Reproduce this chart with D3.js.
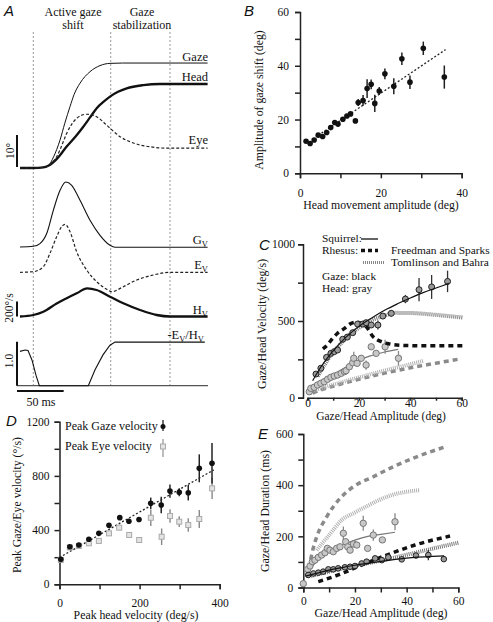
<!DOCTYPE html>
<html><head><meta charset="utf-8">
<script src="https://cdn.jsdelivr.net/npm/d3@7"></script>
<style>
body{margin:0;background:#fff}
svg text{font-family:"Liberation Serif","Times New Roman",serif;fill:#111}
</style></head><body>
<svg id="c" width="493" height="622"></svg>
<script>
// ---------- Panel A (time in ms, position in deg, velocity in deg/s) ----------
const phaseTimes = [14.25, 97.2, 160.7];
const gazePos = [[0,0],[14,0],[25,0.2],[30.3,0.7],[36,3.5],[42.9,8.75],[48,14],[53.6,19.2],[58,23],[64.3,26.5],[75,30.1],[85.7,32],[96.4,32.7],[110,32.8],[201,32.8]];
const headPos = [[0,0],[14,0],[25,0.2],[30.3,0.7],[40,3],[50,6.7],[60,10],[67.8,12.9],[75,15.8],[82.2,18.7],[90,20.8],[96.4,22.3],[105,23.8],[114.3,24.9],[132,25.9],[150,26.25],[201,26.25]];
const eyePos = [[0,0],[14,0],[25,0.2],[30.3,0.6],[35,1.8],[39.3,3.5],[45,7.2],[50,10.8],[55,13.5],[60.7,15.5],[66,16.5],[71.5,16.8],[77,16.6],[82.2,16],[92.9,13.4],[100,11.5],[107.1,9.8],[118,8.2],[128.6,7.2],[140,6.6],[157.2,6.2],[201,6.2]];
const gazeVel = [[0,4],[14.3,13],[21.4,49],[28.6,183],[35.7,493],[42.9,760],[49,871],[55.4,827],[64.3,627],[75,360],[85.7,160],[96.4,27],[102,0],[201,0]];
const eyeVel = [[0,0],[14.3,8],[25,75],[32.1,253],[39.3,475],[44.6,608],[48.2,640],[53.6,541],[60.7,275],[71.4,31],[82.1,-125],[92.9,-227],[98.2,-259],[110.7,-192],[125,-103],[142.9,-36],[160.7,0],[201,0]];
const headVel = [[0,0],[14.3,20],[25,64],[39.3,173],[50,243],[60.7,309],[72,375],[82.1,353],[96.4,264],[110.7,176],[128.6,87],[146.4,20],[160.7,0],[201,0]];
const eyeHeadRatio = [[0,0.78],[5.4,0.81],[8.6,0.8],[12.9,0.58],[17.1,0.24],[20.7,0],[73.2,0],[80.4,0.36],[88.9,0.70],[96.4,0.92],[101.8,0.99],[198,0.99]];

// ---------- Panel B ----------
const bHeadAmp = [1.5,2.5,3.5,4.5,5.6,6.6,7.6,8.6,9.4,10.6,11.6,12.5,13.7,14.4,15.6,16.6,17.6,18.5,19.6,21.0,23.2,25.2,27.2,30.5,35.7];
const bGazeAmp = [11.9,11.1,12.4,14.2,13.7,15.2,17.0,18.9,18.3,20.1,21.3,22.1,19.5,26.3,27.1,31.5,33.1,26.0,30.6,37.0,32.4,42.6,33.9,46.5,35.8];
const bErr = [0,0,0,0,0,0,0,0,0,0,0,0,0,1.3,2.0,3.5,1.8,3.2,1.5,2.0,3.0,2.3,2.5,2.5,4.3];
const bFit = [[4.5,14.1],[36,46]];

// ---------- Panel C (amplitude deg, velocity deg/s) ----------
const cGazePts = [[3.3,154,0],[5.2,192,0],[7.4,263,0],[9.1,289,0],[10.4,300,0],[11.7,311,0],[13.7,381,0],[15.5,395,0],[17.6,424,0],[19.5,480,15],[21.5,480,0],[22.8,489,0],[24.8,474,15],[27.4,474,30],[29.3,532,15],[32.6,550,20],[38.1,643,27],[43.4,704,76],[48.3,722,78],[54.5,758,70]];
const cHeadPts = [[0.7,39,0],[1.3,61,0],[2.6,68,0],[3.9,83,0],[5.2,94,0],[6.5,104,0],[7.8,120,0],[9.1,133,0],[10.4,141,0],[11.7,148,0],[13.1,159,0],[14.4,170,0],[15,176,0],[16.3,202,0],[17.6,228,0],[18,257,43],[19.3,224,0],[20.9,257,20],[22.8,213,30],[24.8,332,0],[26.7,289,0],[30.2,332,45],[35.4,257,48]];
const cGazeFit = [[2,110],[5,195],[8,265],[10,305],[15,395],[20,465],[25,520],[30,570],[35,612],[40,650],[45,685],[50,715],[55,745]];
const cHeadFit = [[1,45],[5,95],[10,150],[15,200],[20,245],[25,275],[30,298],[35.3,315]];
const cFSGaze = [[6,318],[7.8,345],[9.8,387],[11.7,420],[14.4,452],[17,485],[19,492],[21,485],[23,460],[25.4,400],[28.7,365],[32,350],[36,342],[45,338],[60.5,338]];
const cFSHead = [[2,30],[5,50],[10,75],[20,120],[30,160],[40,195],[50,225],[58.5,250]];
const cTBGaze = [[4,140],[8,250],[12,335],[16,405],[20,455],[25,505],[30,535],[34,553],[40,552],[50,540],[60.5,522]];
const cTBHead = [[2.5,48],[10,85],[20,132],[30,177],[40,218],[45,240]];

// ---------- Panel D (deg/s) ----------
const dGaze = [[3.3,184,0],[25.8,277,0],[48.3,290,0],[73.3,333,0],[98.3,376,0],[123.5,436,0],[150.5,492,0],[173.3,465,0],[198.5,478,0],[227.8,598,42],[254,585,61],[275.8,688,49],[299,679,30],[321.5,676,57],[349,856,103],[380.8,893,150]];
const dEye = [[3.3,180,0],[25.8,272,0],[48.3,283,0],[73.3,303,8],[98.3,320,10],[123.5,376,12],[149,418,15],[174,364,20],[199,327,20],[228,491,61],[255,351,61],[276,504,49],[299,462,40],[321.5,438,50],[349,482,66],[381,708,79]];
const dFit = [[0,198],[385,844]];

// ---------- Panel E (amplitude deg, duration ms) ----------
const eGazePts = [[1.9,49,0],[3.9,55,0],[5.8,58,0],[7.7,62,0],[9.7,71,0],[11.6,71,0],[13.5,75,0],[16.1,79,0],[18.1,81,0],[20,84,0],[22.6,94,0],[24.5,101,0],[27.8,114,0],[30.4,107,0],[32.9,118,0],[38.1,110,0],[43.6,125,0],[48.4,127,20],[54.4,111,0]];
const eHeadPts = [[0,15,0],[1.7,71,0],[2.6,84,0],[3.5,101,0],[4.5,107,0],[5.8,118,0],[7.1,127,0],[8.4,136,0],[9.3,153,0],[10.3,146,0],[11.6,140,0],[12.9,153,0],[14.2,159,0],[15.5,212,26],[16.4,179,0],[17.2,159,0],[18.1,146,0],[19.4,170,0],[20.7,166,0],[23.2,251,29],[24.9,153,0],[27.1,205,22],[30.6,186,0],[35.5,257,33]];
const eGazeFit = [[1,45],[5,55],[10,68],[15,78],[20,87],[30,102],[40,115],[50,122],[54.5,124]];
const eHeadFit = [[1,50],[5,100],[10,140],[15,165],[20,185],[25,200],[30,208],[35.5,216]];
const eFSHead = [[1.5,40],[2.3,81],[3.5,140],[5.2,198],[9.1,277],[14.2,348],[19.4,394],[27.1,433],[34.8,472],[43.9,511],[55,550]];
const eFSGaze = [[5.8,23],[13.5,49],[22.6,88],[34.2,134],[43.2,166],[56.8,201]];
const eTBHead = [[5.2,146],[10,205],[14.9,264],[20,293],[25,320],[30,345],[35.5,365],[40,374],[45.2,381]];
const eTBGaze = [[3,45],[10,62],[20,85],[30,105],[40,128],[50,152],[60,175]];

// ================= drawing =================
const svg = d3.select("#c");
const BLACK = "#111", GRAY = "#8a8a8a", LGRAY = "#b0b0b0";
const TICKFS = 11.5, TITLEFS = 11.8, LEGFS = 11.4;

function drawAxis(orient, scale, pos, ticks, labelled, pad, size) {
  const ax = (orient === "left" ? d3.axisLeft(scale) : d3.axisBottom(scale))
    .tickValues(ticks).tickSizeOuter(0).tickSize(size || 5).tickPadding(pad)
    .tickFormat(d => labelled.includes(d) ? d : "");
  const g = svg.append("g")
    .attr("transform", orient === "left" ? `translate(${pos},0)` : `translate(0,${pos})`)
    .call(ax);
  g.select(".domain").attr("stroke", "#222").attr("stroke-width", 1.5);
  g.selectAll(".tick line").attr("stroke", "#222").attr("stroke-width", 1.5);
  g.selectAll("text").attr("font-size", TICKFS).attr("fill", "#111");
  return g;
}
function text(x, y, s, opt = {}) {
  const t = svg.append("text").attr("x", x).attr("y", y).text(s)
    .attr("font-size", opt.size || 12).attr("text-anchor", opt.anchor || "start");
  if (opt.rot) t.attr("transform", `rotate(-90,${x},${y})`);
  return t;
}
function panelLetter(x, y, s) {
  svg.append("text").attr("x", x).attr("y", y).text(s)
    .attr("font-style", "italic").attr("font-size", 15)
    .style("font-family", "Liberation Sans, Arial, sans-serif");
}
function path(data, x, y, stroke, width, dash, curve) {
  svg.append("path").datum(data)
    .attr("d", d3.line().x(d => x(d[0])).y(d => y(d[1])).curve(curve || d3.curveMonotoneX))
    .attr("fill", "none").attr("stroke", stroke).attr("stroke-width", width)
    .attr("stroke-dasharray", dash || null);
}
function errBars(data, x, y, stroke, width) {
  svg.append("g").selectAll("line").data(data.filter(d => d[2] > 0)).join("line")
    .attr("x1", d => x(d[0])).attr("x2", d => x(d[0]))
    .attr("y1", d => y(d[1] - d[2])).attr("y2", d => y(d[1] + d[2]))
    .attr("stroke", stroke).attr("stroke-width", width || 1.3);
}
function subLabel(x, y, parts) {
  const t = svg.append("text").attr("x", x).attr("y", y).attr("text-anchor", "end").attr("font-size", 12.5);
  let down = false;
  parts.forEach(([s, sub]) => {
    const sp = t.append("tspan").text(s);
    if (sub && !down) { sp.attr("font-size", 8.5).attr("dy", 2.5); down = true; }
    else if (!sub && down) { sp.attr("dy", -2.5); down = false; }
    else if (sub) sp.attr("font-size", 8.5);
  });
}

// ---------- Panel A ----------
{
  const tx = d3.scaleLinear().domain([0, 201]).range([20, 207.6]);
  const yPos = d3.scaleLinear().domain([0, 10]).range([168, 136]);
  const yGv = d3.scaleLinear().domain([0, 200]).range([247.3, 232.3]);
  const yEv = d3.scaleLinear().domain([0, 200]).range([272.3, 257.3]);
  const yHv = d3.scaleLinear().domain([0, 200]).range([316.5, 301.5]);
  const yRat = d3.scaleLinear().domain([0, 1]).range([385.7, 341.7]);

  phaseTimes.forEach(t => {
    svg.append("line").attr("x1", tx(t)).attr("x2", tx(t)).attr("y1", 32).attr("y2", 386)
      .attr("stroke", "#999").attr("stroke-width", 1).attr("stroke-dasharray", "2,2");
  });
  panelLetter(4, 16, "A");
  text(73, 16, "Active gaze", { anchor: "middle" });
  text(73, 29, "shift", { anchor: "middle" });
  text(142, 16, "Gaze", { anchor: "middle" });
  text(142, 29, "stabilization", { anchor: "middle" });

  path(gazePos, tx, yPos, BLACK, 1, null);
  path(headPos, tx, yPos, BLACK, 2.3, null);
  path(eyePos, tx, yPos, "#222", 1.2, "3,2");
  text(208, 61, "Gaze", { anchor: "end", size: 12.5 });
  text(208, 81, "Head", { anchor: "end", size: 12.5 });
  text(208, 144, "Eye", { anchor: "end", size: 12.5 });

  svg.append("line").attr("x1", 17).attr("x2", 17).attr("y1", yPos(0) - 1).attr("y2", yPos(10) - 1)
    .attr("stroke", BLACK).attr("stroke-width", 2);
  text(14, 151, "10°", { anchor: "middle", rot: true, size: 11.5 });

  path(gazeVel, tx, yGv, BLACK, 1.1, null);
  path(eyeVel, tx, yEv, "#222", 1.2, "3,2");
  path(headVel, tx, yHv, BLACK, 2.3, null);
  subLabel(208, 244, [["G"], ["V", true]]);
  subLabel(208, 269, [["E"], ["V", true]]);
  subLabel(208, 314, [["H"], ["V", true]]);

  svg.append("line").attr("x1", 17).attr("x2", 17).attr("y1", yHv(0)).attr("y2", yHv(200))
    .attr("stroke", BLACK).attr("stroke-width", 2);
  text(13, 308, "200°/s", { anchor: "middle", rot: true, size: 11.5 });

  svg.append("line").attr("x1", 17).attr("x2", 208).attr("y1", yRat(0)).attr("y2", yRat(0))
    .attr("stroke", "#555").attr("stroke-width", 1.2);
  svg.append("line").attr("x1", 17).attr("x2", 17).attr("y1", yRat(0)).attr("y2", yRat(1))
    .attr("stroke", BLACK).attr("stroke-width", 2);
  text(13, 361, "1.0", { anchor: "middle", rot: true, size: 11.5 });
  path(eyeHeadRatio, tx, yRat, BLACK, 1.1, null, d3.curveLinear);
  subLabel(204, 339, [["-E"], ["V", true], ["/H"], ["V", true]]);

  svg.append("line").attr("x1", 17).attr("x2", 17 + tx(50) - tx(0)).attr("y1", 391).attr("y2", 391)
    .attr("stroke", BLACK).attr("stroke-width", 2);
  text(41, 406, "50 ms", { anchor: "middle", size: 12 });
}

// ---------- Panel B ----------
{
  const x = d3.scaleLinear().domain([0, 40]).range([300, 461.7]);
  const y = d3.scaleLinear().domain([0, 60]).range([173.3, 12]);
  drawAxis("left", y, 300, [0, 10, 20, 30, 40, 50, 60], [0, 20, 40, 60], 6);
  drawAxis("bottom", x, 173.3, [0, 10, 20, 30, 40], [0, 20, 40], 10.5);
  panelLetter(244, 16, "B");
  text(263, 100, "Amplitude of gaze shift (deg)", { anchor: "middle", rot: true, size: TITLEFS });
  text(381, 209, "Head movement amplitude (deg)", { anchor: "middle", size: TITLEFS });
  path(bFit, x, y, "#222", 1.3, "2,2", d3.curveLinear);
  const pts = bHeadAmp.map((v, i) => [v, bGazeAmp[i], bErr[i]]);
  errBars(pts, x, y, "#222", 1.5);
  svg.append("g").selectAll("circle").data(pts).join("circle")
    .attr("cx", d => x(d[0])).attr("cy", d => y(d[1])).attr("r", 2.8).attr("fill", BLACK);
}

// ---------- Panel C ----------
{
  const x = d3.scaleLinear().domain([0, 60]).range([307.5, 461.7]);
  const y = d3.scaleLinear().domain([0, 1000]).range([397.7, 244.3]);
  drawAxis("left", y, 303, [0, 250, 500, 750, 1000], [0, 500, 1000], 3);
  drawAxis("bottom", x, 397.7, [0, 10, 20, 30, 40, 50, 60], [0, 20, 40, 60], -2.2, 3);
  panelLetter(259, 250, "C");
  text(266, 324, "Gaze/Head Velocity (deg/s)", { anchor: "middle", rot: true, size: TITLEFS });
  text(381, 419.5, "Gaze/Head Amplitude (deg)", { anchor: "middle", size: 11.5 });

  path(cFSHead, x, y, GRAY, 3.5, "5,4");
  path(cTBHead, x, y, LGRAY, 4, "1,1");
  path(cHeadFit, x, y, "#777", 1.2);
  errBars(cHeadPts, x, y, "#888", 1.3);
  svg.append("g").selectAll("circle").data(cHeadPts).join("circle")
    .attr("cx", d => x(d[0])).attr("cy", d => y(d[1])).attr("r", 3.2)
    .attr("fill", "#c8c8c8").attr("stroke", "#777").attr("stroke-width", 1);

  path(cTBGaze, x, y, "#777", 4, "1,1");
  path(cFSGaze, x, y, BLACK, 3.5, "5,4");
  errBars(cGazePts, x, y, "#333", 1.3);
  svg.append("g").selectAll("circle").data(cGazePts).join("circle")
    .attr("cx", d => x(d[0])).attr("cy", d => y(d[1])).attr("r", 3)
    .attr("fill", "#999").attr("stroke", "#222").attr("stroke-width", 1);
  path(cGazeFit, x, y, BLACK, 1.2);

  // legend
  text(322, 242, "Squirrel:", { size: LEGFS });
  svg.append("line").attr("x1", 361).attr("x2", 378).attr("y1", 239).attr("y2", 239).attr("stroke", BLACK).attr("stroke-width", 1.3);
  text(322, 253.5, "Rhesus:", { size: LEGFS });
  svg.append("line").attr("x1", 361).attr("x2", 378).attr("y1", 250.5).attr("y2", 250.5).attr("stroke", BLACK).attr("stroke-width", 3.5).attr("stroke-dasharray", "4,3");
  text(391, 253.5, "Freedman and Sparks", { size: LEGFS });
  svg.append("line").attr("x1", 363).attr("x2", 385).attr("y1", 262.5).attr("y2", 262.5).attr("stroke", "#888").attr("stroke-width", 3).attr("stroke-dasharray", "1,1");
  text(391, 265.5, "Tomlinson and Bahra", { size: LEGFS });
  text(322, 280, "Gaze: black", { size: LEGFS });
  text(322, 292, "Head: gray", { size: LEGFS });
}

// ---------- Panel D ----------
{
  const x = d3.scaleLinear().domain([0, 400]).range([59.5, 219.7]);
  const y = d3.scaleLinear().domain([0, 1200]).range([584.3, 421.7]);
  drawAxis("left", y, 59.5, [0, 200, 400, 600, 800, 1000, 1200], [0, 400, 800, 1200], 5);
  drawAxis("bottom", x, 584.3, [0, 100, 200, 300, 400], [0, 200, 400], 9.5);
  panelLetter(6, 426, "D");
  text(21, 505, "Peak Gaze/Eye velocity (°/s)", { anchor: "middle", rot: true, size: TITLEFS });
  text(136, 619, "Peak head velocity (deg/s)", { anchor: "middle", size: TITLEFS });
  path(dFit, x, y, "#222", 1.3, "2,2", d3.curveLinear);
  errBars(dEye, x, y, "#888", 1.4);
  svg.append("g").selectAll("rect").data(dEye).join("rect")
    .attr("x", d => x(d[0]) - 2.5).attr("y", d => y(d[1]) - 2.5).attr("width", 5).attr("height", 5)
    .attr("fill", "#e4e4e4").attr("stroke", "#aaa").attr("stroke-width", 1);
  errBars(dGaze, x, y, "#222", 1.5);
  svg.append("g").selectAll("circle").data(dGaze).join("circle")
    .attr("cx", d => x(d[0])).attr("cy", d => y(d[1])).attr("r", 2.8).attr("fill", BLACK);
  text(65, 430, "Peak Gaze velocity", { size: 12 });
  text(65, 449.5, "Peak Eye velocity", { size: 12 });
  svg.append("line").attr("x1", 163).attr("x2", 163).attr("y1", 420).attr("y2", 431).attr("stroke", "#222").attr("stroke-width", 1.3);
  svg.append("circle").attr("cx", 163).attr("cy", 426.5).attr("r", 2.5).attr("fill", BLACK);
  svg.append("line").attr("x1", 163).attr("x2", 163).attr("y1", 439).attr("y2", 457).attr("stroke", "#999").attr("stroke-width", 1.3);
  svg.append("rect").attr("x", 160.5).attr("y", 444).attr("width", 5).attr("height", 5).attr("fill", "#e4e4e4").attr("stroke", "#aaa");
}

// ---------- Panel E ----------
{
  const x = d3.scaleLinear().domain([0, 60]).range([303.3, 458.3]);
  const y = d3.scaleLinear().domain([0, 600]).range([587.5, 434]);
  drawAxis("left", y, 303.3, [0, 100, 200, 300, 400, 500, 600], [0, 200, 400, 600], 5);
  drawAxis("bottom", x, 587.5, [0, 10, 20, 30, 40, 50, 60], [0, 20, 40, 60], 4.3);
  panelLetter(258, 439, "E");
  text(269, 511, "Gaze/Head Duration (ms)", { anchor: "middle", rot: true, size: TITLEFS });
  text(381, 617, "Gaze/Head Amplitude (deg)", { anchor: "middle", size: TITLEFS });

  path(eFSHead, x, y, GRAY, 3.5, "5,4");
  path(eTBHead, x, y, LGRAY, 4, "1,1");
  path(eHeadFit, x, y, "#777", 1.2);
  errBars(eHeadPts, x, y, "#888", 1.3);
  svg.append("g").selectAll("circle").data(eHeadPts).join("circle")
    .attr("cx", d => x(d[0])).attr("cy", d => y(d[1])).attr("r", 3.2)
    .attr("fill", "#c8c8c8").attr("stroke", "#777").attr("stroke-width", 1);

  path(eTBGaze, x, y, "#777", 4, "1,1");
  path(eFSGaze, x, y, BLACK, 3.5, "5,4");
  errBars(eGazePts, x, y, "#333", 1.3);
  svg.append("g").selectAll("circle").data(eGazePts).join("circle")
    .attr("cx", d => x(d[0])).attr("cy", d => y(d[1])).attr("r", 2.8)
    .attr("fill", "#999").attr("stroke", "#222").attr("stroke-width", 1);
  path(eGazeFit, x, y, BLACK, 1.2);
}
</script>
</body></html>
